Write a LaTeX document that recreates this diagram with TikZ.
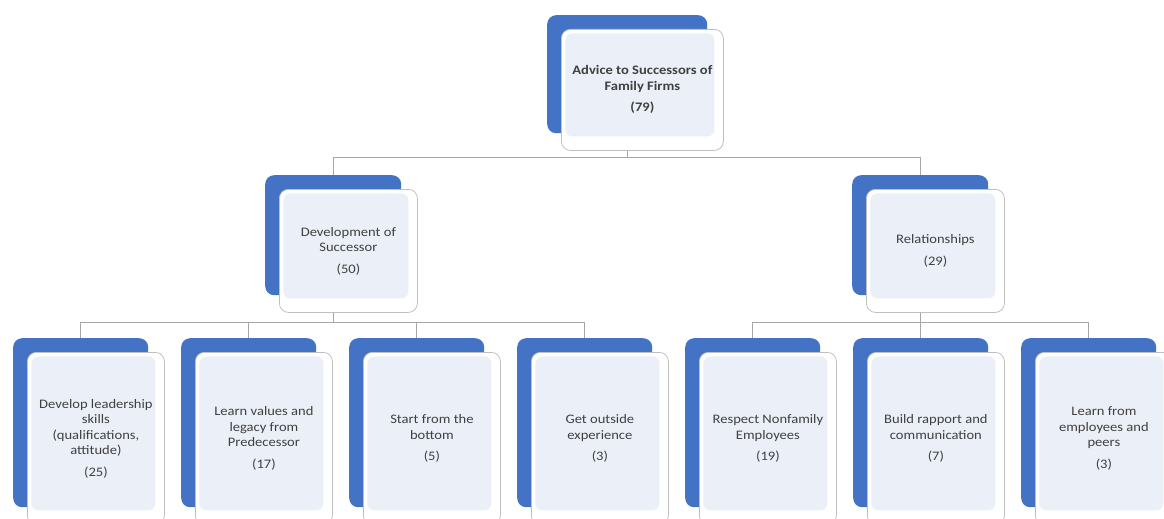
\documentclass[tikz,border=0pt]{standalone}
\usepackage{fontspec}
\setmainfont[FakeStretch=1.12]{Carlito}
\definecolor{cblue}{HTML}{4472C4}
\definecolor{cfill}{HTML}{EBEFF8}
\definecolor{cline}{HTML}{A6A6A6}
\definecolor{cedge}{HTML}{BFBFBF}
\definecolor{ctext}{HTML}{404040}
\tikzset{
  back/.style={fill=cblue, rounded corners=9pt, inner sep=0pt, anchor=north west},
  front/.style={draw=cedge, line width=0.8pt, fill=white, rounded corners=9pt, anchor=north west,
    inner sep=0pt, align=center, text=ctext, font=\fontsize{13}{15.5}\selectfont,
    path picture={\fill[cfill, rounded corners=7pt]
      ([xshift=4pt,yshift=-4pt]path picture bounding box.north west) rectangle
      ([xshift=-9pt,yshift=14pt]path picture bounding box.south east);}},
  conn/.style={draw=cline, line width=0.9pt}
}
\newcommand\mycard[6]{%
  \node[back, minimum width=#4pt, minimum height=#5pt] (#1b) at (#2,#3) {};
  \node[front, minimum width=#4pt+2pt, minimum height=#5pt+3pt] (#1) at (#2+14,#3+14) {#6};}
\begin{document}
\begin{tikzpicture}[x=1pt,y=-1pt]
\clip (0,0) rectangle (1164,519);
\fill[white] (0,0) rectangle (1164,519);
% top
\mycard{top}{547}{15}{160}{118}{\bfseries Advice to Successors of\\\bfseries Family Firms\\[6pt]\bfseries (79)}
% level 2
\mycard{dev}{265}{175}{136}{120}{Development of\\Successor\\[6pt](50)}
\mycard{rel}{852}{175}{136}{120}{Relationships\\[6pt](29)}
% level 3
\mycard{ca}{13}{338}{135}{169}{Develop leadership\\skills\\(qualifications,\\attitude)\\[6pt](25)}
\mycard{cb}{181}{338}{135}{169}{Learn values and\\legacy from\\Predecessor\\[6pt](17)}
\mycard{cc}{349}{338}{135}{169}{Start from the\\bottom\\[6pt](5)}
\mycard{cd}{517}{338}{135}{169}{Get outside\\experience\\[6pt](3)}
\mycard{ce}{685}{338}{135}{169}{Respect Nonfamily\\Employees\\[6pt](19)}
\mycard{cf}{853}{338}{135}{169}{Build rapport and\\communication\\[6pt](7)}
\mycard{cg}{1021}{338}{135}{169}{Learn from\\employees and\\peers\\[6pt](3)}
% connectors
\draw[conn] (top.south -| topb.center) -- ++(0,7) coordinate (bus0) -| (devb.north);
\draw[conn] (bus0) -| (relb.north);
\draw[conn] (dev.south -| devb.center) -- ++(0,10) coordinate (bus1) -| (cab.north);
\draw[conn] (bus1) -| (cbb.north);
\draw[conn] (bus1) -| (ccb.north);
\draw[conn] (bus1) -| (cdb.north);
\draw[conn] (rel.south -| relb.center) -- ++(0,10) coordinate (bus2) -| (ceb.north);
\draw[conn] (bus2) -| (cfb.north);
\draw[conn] (bus2) -| (cgb.north);
\end{tikzpicture}
\end{document}
